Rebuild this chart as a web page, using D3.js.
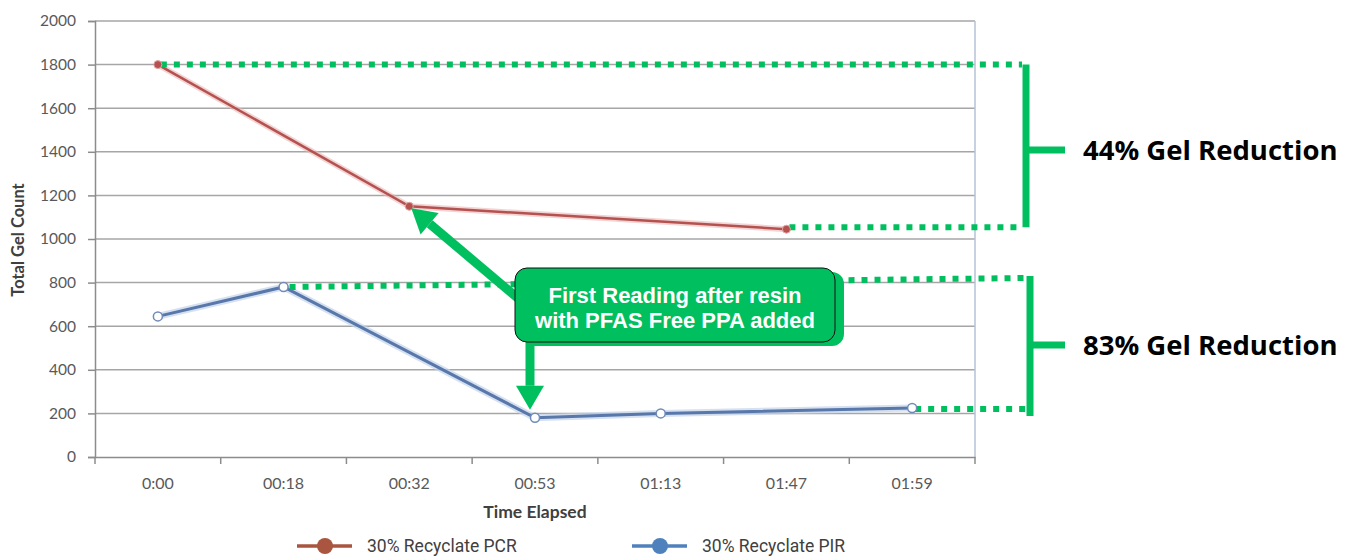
<!DOCTYPE html>
<html>
<head>
<meta charset="utf-8">
<script src="https://cdn.jsdelivr.net/npm/d3@7"></script>
<style>
  body { margin: 0; background: #fff; }
  svg { display: block; }
</style>
</head>
<body>
<div id="chart"></div>
<script>
const times = ['0:00', '00:18', '00:32', '00:53', '01:13', '01:47', '01:59'];
const pcr = [1800, null, 1150, null, null, 1045, null];
const pir = [645, 780, null, 180, 200, null, 225];
const yTicks = [0, 200, 400, 600, 800, 1000, 1200, 1400, 1600, 1800, 2000];
const seriesNames = ['30% Recyclate PCR', '30% Recyclate PIR'];
const reductions = ['44% Gel Reduction', '83% Gel Reduction'];
const calloutLines = ['First Reading after resin', 'with PFAS Free PPA added'];

const width = 1356, height = 556;
const green = '#00bf5f';

const svg = d3.select('#chart').append('svg')
  .attr('width', width)
  .attr('height', height);

const x = d3.scaleBand().domain(times).range([95, 975]);
const y = d3.scaleLinear().domain([0, 2000]).range([457, 21]);
const cx = t => x(t) + x.bandwidth() / 2;

// gridlines
svg.append('g')
  .selectAll('line')
  .data(yTicks.filter(d => d > 0))
  .enter().append('line')
  .attr('x1', 95).attr('x2', 975)
  .attr('y1', d => y(d)).attr('y2', d => y(d))
  .attr('stroke', '#a6a6a6')
  .attr('stroke-width', 1.5);

// right border of plot area
svg.append('line')
  .attr('x1', 975).attr('x2', 975).attr('y1', 21).attr('y2', 457)
  .attr('stroke', '#b4c2d4').attr('stroke-width', 1.5);

// y axis
const yAxis = svg.append('g')
  .attr('transform', 'translate(95,0)')
  .call(d3.axisLeft(y).tickValues(yTicks).tickFormat(d3.format('d')).tickSize(7).tickPadding(12));
yAxis.select('.domain').attr('stroke', '#8c8c8c').attr('stroke-width', 1.5);
yAxis.selectAll('.tick line').attr('stroke', '#8c8c8c').attr('stroke-width', 1.5);
yAxis.selectAll('text')
  .attr('font-family', 'Lato, sans-serif')
  .attr('font-size', 15.5)
  .attr('fill', '#595959');

// x axis
const xAxis = svg.append('g')
  .attr('transform', 'translate(0,457)')
  .call(d3.axisBottom(x).tickSize(0).tickPadding(21));
xAxis.select('.domain').attr('stroke', '#8c8c8c').attr('stroke-width', 1.5);
xAxis.selectAll('text')
  .attr('font-family', 'Lato, sans-serif')
  .attr('font-size', 16)
  .attr('fill', '#595959');
svg.append('g')
  .selectAll('line')
  .data(times.concat(['end']))
  .enter().append('line')
  .attr('x1', (d, i) => x.range()[0] + i * x.step())
  .attr('x2', (d, i) => x.range()[0] + i * x.step())
  .attr('y1', 457).attr('y2', 464)
  .attr('stroke', '#8c8c8c').attr('stroke-width', 1.5);

// axis titles
svg.append('text')
  .attr('transform', 'translate(24,240) rotate(-90)')
  .attr('text-anchor', 'middle')
  .attr('font-family', 'Lato, sans-serif')
  .attr('font-weight', 'bold')
  .attr('font-size', 16.5)
  .attr('fill', '#404040')
  .text('Total Gel Count');

svg.append('text')
  .attr('x', 535).attr('y', 518)
  .attr('text-anchor', 'middle')
  .attr('font-family', 'Lato, sans-serif')
  .attr('font-weight', 'bold')
  .attr('font-size', 17.5)
  .attr('fill', '#404040')
  .text('Time Elapsed');

// series
function points(values) {
  return times.map((t, i) => ({ t, v: values[i] })).filter(d => d.v !== null);
}
const line = d3.line().x(d => cx(d.t)).y(d => y(d.v));

const pcrPts = points(pcr);
const pirPts = points(pir);

svg.append('path').datum(pcrPts).attr('d', line)
  .attr('fill', 'none').attr('stroke', '#e8b7b6').attr('stroke-width', 6).attr('opacity', 0.6);
svg.append('path').datum(pcrPts).attr('d', line)
  .attr('fill', 'none').attr('stroke', '#b5514f').attr('stroke-width', 2.5);

svg.append('path').datum(pirPts).attr('d', line)
  .attr('fill', 'none').attr('stroke', '#c3d3ea').attr('stroke-width', 7).attr('opacity', 0.7);
svg.append('path').datum(pirPts).attr('d', line)
  .attr('fill', 'none').attr('stroke', '#5877aa').attr('stroke-width', 3);

// dotted guide lines (behind markers and callout)
const dotted = (x1, y1, x2, y2) => svg.append('line')
  .attr('x1', x1).attr('y1', y1).attr('x2', x2).attr('y2', y2)
  .attr('stroke', green).attr('stroke-width', 6)
  .attr('stroke-dasharray', '6,7');

dotted(cx('0:00') + 3, y(1800), 1022, y(1800));
dotted(cx('01:47') + 3, y(1045) - 2, 1022, y(1045) - 2);
dotted(cx('00:18') + 6, y(780), 1026, y(780) - 9);
dotted(cx('01:59') + 3, y(225) + 1, 1026, y(225) + 1);

svg.append('g')
  .selectAll('circle')
  .data(pcrPts)
  .enter().append('circle')
  .attr('cx', d => cx(d.t)).attr('cy', d => y(d.v))
  .attr('r', 4)
  .attr('fill', '#b5514f')
  .attr('stroke', '#e3a5a4').attr('stroke-width', 1);

svg.append('g')
  .selectAll('circle')
  .data(pirPts)
  .enter().append('circle')
  .attr('cx', d => cx(d.t)).attr('cy', d => y(d.v))
  .attr('r', 4.5)
  .attr('fill', '#fff')
  .attr('stroke', '#6f8bb8').attr('stroke-width', 1.5);

// brackets
function bracket(bx, y1, y2, tickY, label) {
  svg.append('line')
    .attr('x1', bx).attr('x2', bx).attr('y1', y1).attr('y2', y2)
    .attr('stroke', green).attr('stroke-width', 7);
  svg.append('line')
    .attr('x1', bx).attr('x2', 1065).attr('y1', tickY).attr('y2', tickY)
    .attr('stroke', green).attr('stroke-width', 7);
  svg.append('text')
    .attr('x', 1083).attr('y', tickY + 3)
    .attr('dominant-baseline', 'middle')
    .attr('font-family', '"Open Sans", sans-serif')
    .attr('font-weight', 'bold')
    .attr('font-size', 27.5)
    .attr('fill', '#000')
    .text(label);
}
bracket(1026, y(1800), y(1045) - 2, 150, reductions[0]);
bracket(1030, y(780) - 11, y(225) + 8, 345, reductions[1]);

// arrows from callout
function arrow(x1, y1, x2, y2) {
  const ang = Math.atan2(y2 - y1, x2 - x1);
  const headLen = 24, headW = 14;
  const bx = x2 - headLen * Math.cos(ang), by = y2 - headLen * Math.sin(ang);
  svg.append('line')
    .attr('x1', x1).attr('y1', y1).attr('x2', bx).attr('y2', by)
    .attr('stroke', green).attr('stroke-width', 9);
  const px = -Math.sin(ang) * headW, py = Math.cos(ang) * headW;
  svg.append('path')
    .attr('d', `M${x2},${y2} L${bx + px},${by + py} L${bx - px},${by - py} Z`)
    .attr('fill', green);
}
arrow(520, 300, cx('00:32') + 2, y(1150) + 2);
arrow(530, 340, 530, y(180) - 8);

// callout box
svg.append('rect')
  .attr('x', 523).attr('y', 272).attr('width', 321).attr('height', 74)
  .attr('rx', 12)
  .attr('fill', green);
svg.append('rect')
  .attr('x', 515).attr('y', 268).attr('width', 320).attr('height', 74)
  .attr('rx', 12)
  .attr('fill', green)
  .attr('stroke', '#111').attr('stroke-width', 1);
svg.append('g')
  .selectAll('text')
  .data(calloutLines)
  .enter().append('text')
  .attr('x', 675)
  .attr('y', (d, i) => 303 + i * 25)
  .attr('text-anchor', 'middle')
  .attr('font-family', '"Liberation Sans", Arial, sans-serif')
  .attr('font-weight', 'bold')
  .attr('font-size', 22)
  .attr('fill', '#fff')
  .text(d => d);

// legend
const legendColors = ['#a9553f', '#4f81bd'];
const legend = svg.append('g')
  .selectAll('g')
  .data(seriesNames)
  .enter().append('g')
  .attr('transform', (d, i) => `translate(${297 + i * 335},546)`);
legend.append('line')
  .attr('x1', 0).attr('x2', 55).attr('y1', 0).attr('y2', 0)
  .attr('stroke', (d, i) => legendColors[i]).attr('stroke-width', 3.5);
legend.append('circle')
  .attr('cx', 28).attr('cy', 0).attr('r', 8)
  .attr('fill', (d, i) => legendColors[i]);
legend.append('text')
  .attr('x', 70).attr('y', 1)
  .attr('dominant-baseline', 'middle')
  .attr('font-family', 'Roboto, sans-serif')
  .attr('font-size', 17.5)
  .attr('fill', '#404040')
  .text(d => d);
</script>
</body>
</html>
